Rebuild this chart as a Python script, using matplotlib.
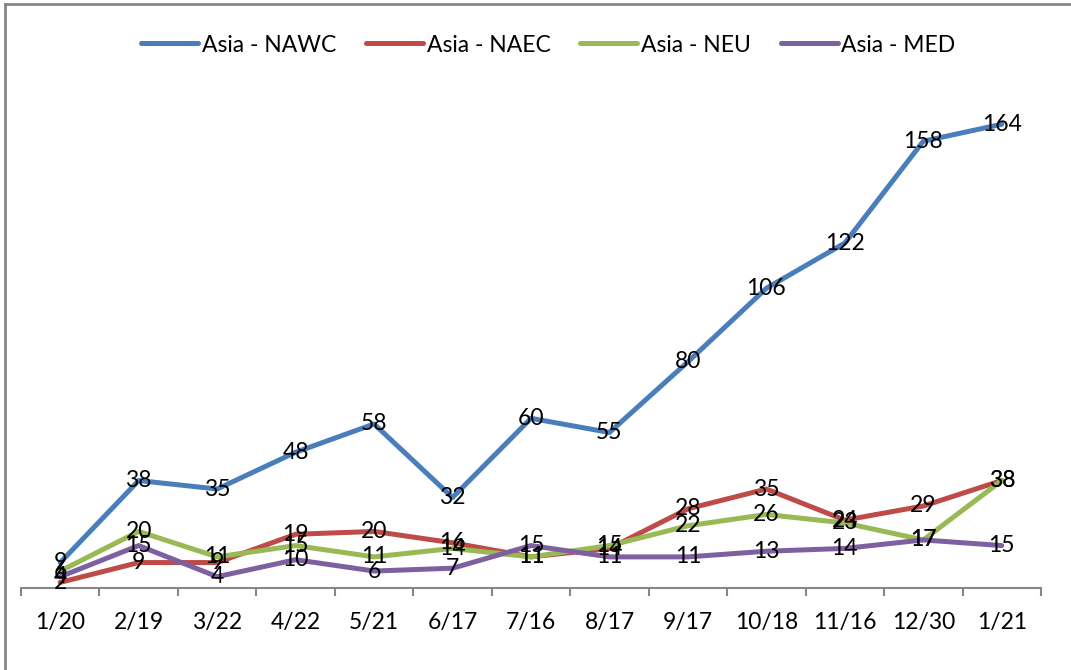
import matplotlib.pyplot as plt
from matplotlib.lines import Line2D

# data
dates = ['1/20', '2/19', '3/22', '4/22', '5/21', '6/17', '7/16',
         '8/17', '9/17', '10/18', '11/16', '12/30', '1/21']
nawc = [9, 38, 35, 48, 58, 32, 60, 55, 80, 106, 122, 158, 164]
naec = [2, 9, 9, 19, 20, 16, 11, 14, 28, 35, 24, 29, 38]
neu = [6, 20, 11, 15, 11, 14, 11, 15, 22, 26, 23, 17, 38]
med = [4, 15, 4, 10, 6, 7, 15, 11, 11, 13, 14, 17, 15]

series = [('Asia - NAWC', nawc, '#4A7EBB'),
          ('Asia - NAEC', naec, '#BE4B48'),
          ('Asia - NEU', neu, '#98B954'),
          ('Asia - MED', med, '#7D60A0')]

plt.rcParams['font.family'] = ['Lato', 'DejaVu Sans']
fs = 16.5

fig = plt.figure(figsize=(10.71, 6.70), dpi=100)
ax = fig.add_axes([21/1071, 82/670, 1020/1071, 509/670])

x = list(range(len(dates)))
for name, vals, col in series:
    ax.plot(x, vals, color=col, lw=3.6, label=name, solid_capstyle='round')
    for xi, v in zip(x, vals):
        ax.text(xi, v, str(v), ha='center', va='center', fontsize=fs, color='black')

ax.set_xlim(-0.5, len(dates) - 0.5)
ax.set_ylim(0, 180)
ax.set_xticks(x)
ax.set_xticklabels(dates, fontsize=fs)
ax.set_xticks([i - 0.5 for i in range(len(dates) + 1)], minor=True)
ax.tick_params(axis='x', which='major', length=0, pad=17)
ax.tick_params(axis='x', which='minor', length=6, width=1.5, color='#868686')
ax.set_yticks([])
for s in ['top', 'right', 'left']:
    ax.spines[s].set_visible(False)
ax.spines['bottom'].set_color('#868686')
ax.spines['bottom'].set_linewidth(1.5)

handles = [Line2D([0], [0], color=c, lw=3.6, solid_capstyle='round') for _, _, c in series]
fig.legend(handles, [s[0] for s in series], loc='center', bbox_to_anchor=(0.512, 1 - 45/670),
           ncol=4, frameon=False, fontsize=fs, handlelength=2.5, handletextpad=0.15,
           columnspacing=1.3)

# chart border (only left and top visible in the crop)
fig.add_artist(Line2D([5/1071, 5/1071], [0, 1 - 4/670], transform=fig.transFigure,
                      color='#868686', lw=2))
fig.add_artist(Line2D([5/1071, 1], [1 - 4/670, 1 - 4/670], transform=fig.transFigure,
                      color='#868686', lw=2))

fig.savefig('out.png', dpi=100)
